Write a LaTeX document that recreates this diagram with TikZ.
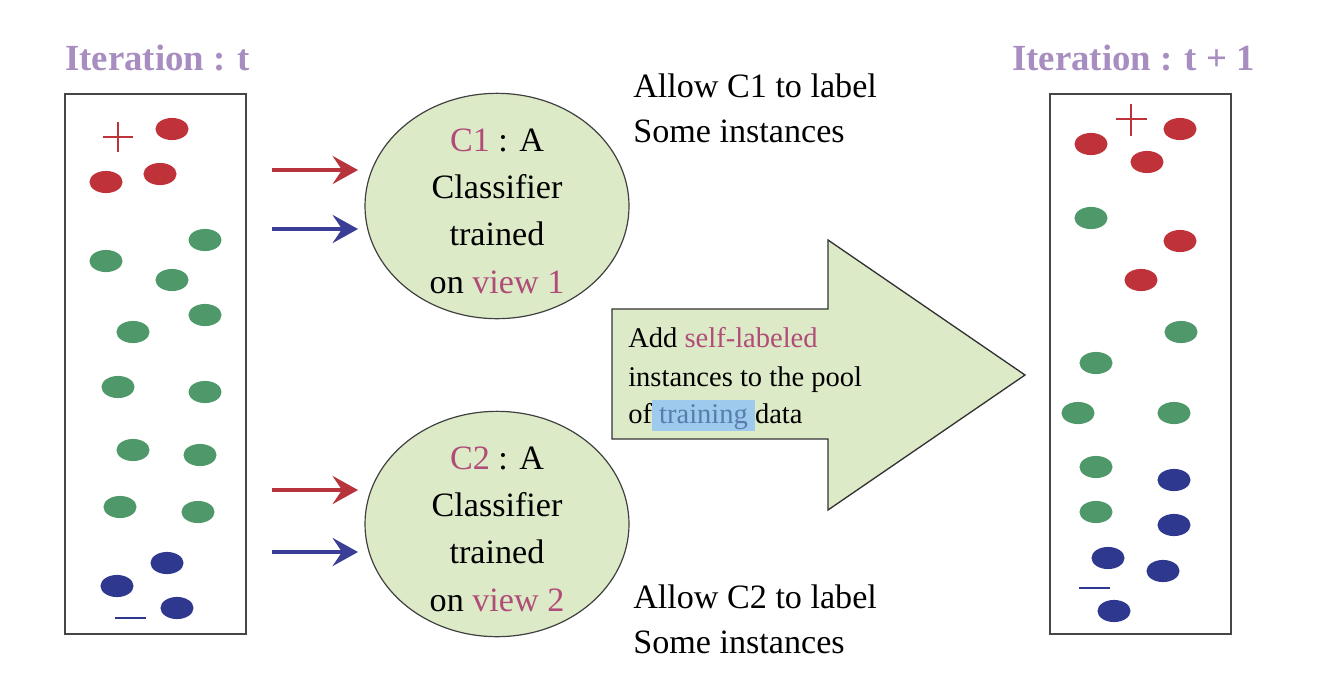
\documentclass[tikz,border=0pt]{standalone}
\usepackage{fontspec}
\setmainfont{Liberation Serif}
\usetikzlibrary{shapes.geometric,arrows.meta}
\definecolor{ttl}{RGB}{167,141,192}
\definecolor{rd}{RGB}{192,50,58}
\definecolor{gn}{RGB}{78,152,106}
\definecolor{bl}{RGB}{46,56,143}
\definecolor{fillg}{RGB}{221,234,199}
\definecolor{mag}{RGB}{176,76,120}
\definecolor{hl}{RGB}{158,202,238}
\definecolor{tb}{RGB}{88,125,172}
\definecolor{framec}{RGB}{70,70,70}
\definecolor{arred}{RGB}{184,52,60}
\definecolor{arblue}{RGB}{58,63,149}
\begin{document}
\begin{tikzpicture}[x=0.75pt,y=-0.75pt,
  titletext/.style={font=\fontsize{27.6}{32}\selectfont\bfseries, text=ttl, inner sep=0pt, anchor=base west},
  bigtext/.style={font=\fontsize{25.6}{34}\selectfont, inner sep=0pt, anchor=base west},
  arrtext/.style={font=\fontsize{21.4}{28}\selectfont, inner sep=0pt, anchor=base west},
  framebox/.style={draw=framec, line width=1.6pt},
  classnode/.style={ellipse, draw=black!75, line width=0.9pt, fill=fillg, minimum width=198pt, minimum height=169pt, inner sep=0pt},
  classtext/.style={align=center, inner sep=0pt, font=\fontsize{25.6}{35.5}\selectfont},
  dt/.style={x radius=12.4pt, y radius=8.3pt},
  rdot/.style={fill=rd},
  gdot/.style={fill=gn},
  bdot/.style={fill=bl},
  tipstyle/.style={-{Stealth[length=19pt,width=21pt,inset=7pt]}},
  redarrow/.style={draw=arred, line width=3pt, tipstyle},
  bluearrow/.style={draw=arblue, line width=3pt, tipstyle},
  bigarrow/.style={draw=black!80, line width=1pt, fill=fillg, line join=miter}
]
\useasboundingbox (0,0) rectangle (1334,686);

% titles
\node[titletext] (t1) at (65,70) {Iteration : t};
\node[titletext] (t2) at (1012,70) {Iteration : t + 1};

% frames
\draw[framebox] (65,94) rectangle (246,634);
\draw[framebox] (1050,94) rectangle (1231,634);

% left box contents
\draw[rd, line width=2pt] (103,137) -- (133,137) (118,122) -- (118,152);
\path[rdot] (172,129) circle[dt];
\path[rdot] (106,182) circle[dt];
\path[rdot] (160,174) circle[dt];
\path[gdot] (205,240) circle[dt];
\path[gdot] (106,261) circle[dt];
\path[gdot] (172,280) circle[dt];
\path[gdot] (205,315) circle[dt];
\path[gdot] (133,332) circle[dt];
\path[gdot] (118,387) circle[dt];
\path[gdot] (205,392) circle[dt];
\path[gdot] (133,450) circle[dt];
\path[gdot] (200,455) circle[dt];
\path[gdot] (120,507) circle[dt];
\path[gdot] (198,512) circle[dt];
\path[bdot] (167,563) circle[dt];
\path[bdot] (117,586) circle[dt];
\path[bdot] (177,608) circle[dt];
\draw[bl, line width=2pt] (115,618) -- (146,618);

% right box contents
\draw[rd, line width=2pt] (1116,119) -- (1147,119) (1131,104) -- (1131,136);
\path[rdot] (1180,129) circle[dt];
\path[rdot] (1091,144) circle[dt];
\path[rdot] (1147,162) circle[dt];
\path[gdot] (1091,218) circle[dt];
\path[rdot] (1180,241) circle[dt];
\path[rdot] (1141,280) circle[dt];
\path[gdot] (1181,332) circle[dt];
\path[gdot] (1096,363) circle[dt];
\path[gdot] (1078,413) circle[dt];
\path[gdot] (1174,413) circle[dt];
\path[gdot] (1096,467) circle[dt];
\path[bdot] (1174,480) circle[dt];
\path[gdot] (1096,512) circle[dt];
\path[bdot] (1174,525) circle[dt];
\path[bdot] (1108,558) circle[dt];
\path[bdot] (1163,571) circle[dt];
\draw[bl, line width=2pt] (1079,588) -- (1110,588);
\path[bdot] (1114,611) circle[dt];

% classifiers
\node[classnode] (c1) at (497,206) {};
\node[classtext] (c1t) at (497,211) {\textcolor{mag}{C1} : A\\Classifier\\trained\\on \textcolor{mag}{view 1}};
\node[classnode] (c2) at (497,524) {};
\node[classtext] (c2t) at (497,529) {\textcolor{mag}{C2} : A\\Classifier\\trained\\on \textcolor{mag}{view 2}};

% input arrows
\coordinate (r1s) at (272,170); \coordinate (r1e) at (358,170);
\coordinate (b1s) at (272,229); \coordinate (b1e) at (358,229);
\coordinate (r2s) at (272,490); \coordinate (r2e) at (358,490);
\coordinate (b2s) at (272,552); \coordinate (b2e) at (358,552);
\draw[redarrow] (r1s) -- (r1e);
\draw[bluearrow] (b1s) -- (b1e);
\draw[redarrow] (r2s) -- (r2e);
\draw[bluearrow] (b2s) -- (b2e);

% allow texts
\node[bigtext] (a1) at (633,97) {Allow C1 to label};
\node[bigtext] (a1b) at (633,142) {Some instances};
\node[bigtext] (a2) at (633,608) {Allow C2 to label};
\node[bigtext] (a2b) at (633,653) {Some instances};

% big arrow
\draw[bigarrow] (612,309) -- (828,309) -- (828,240) -- (1025,375) -- (828,510) -- (828,439) -- (612,439) -- cycle;
\node[arrtext] (g1) at (628,347) {Add \textcolor{mag}{self-labeled}};
\node[arrtext] (g2) at (628,386) {instances to the pool};
\node[arrtext] (g3) at (628,423) {of{\setlength{\fboxsep}{0pt}\colorbox{hl}{\rule[-6pt]{0pt}{23pt}\ \textcolor{tb}{training}\ }}data};
\end{tikzpicture}
\end{document}
